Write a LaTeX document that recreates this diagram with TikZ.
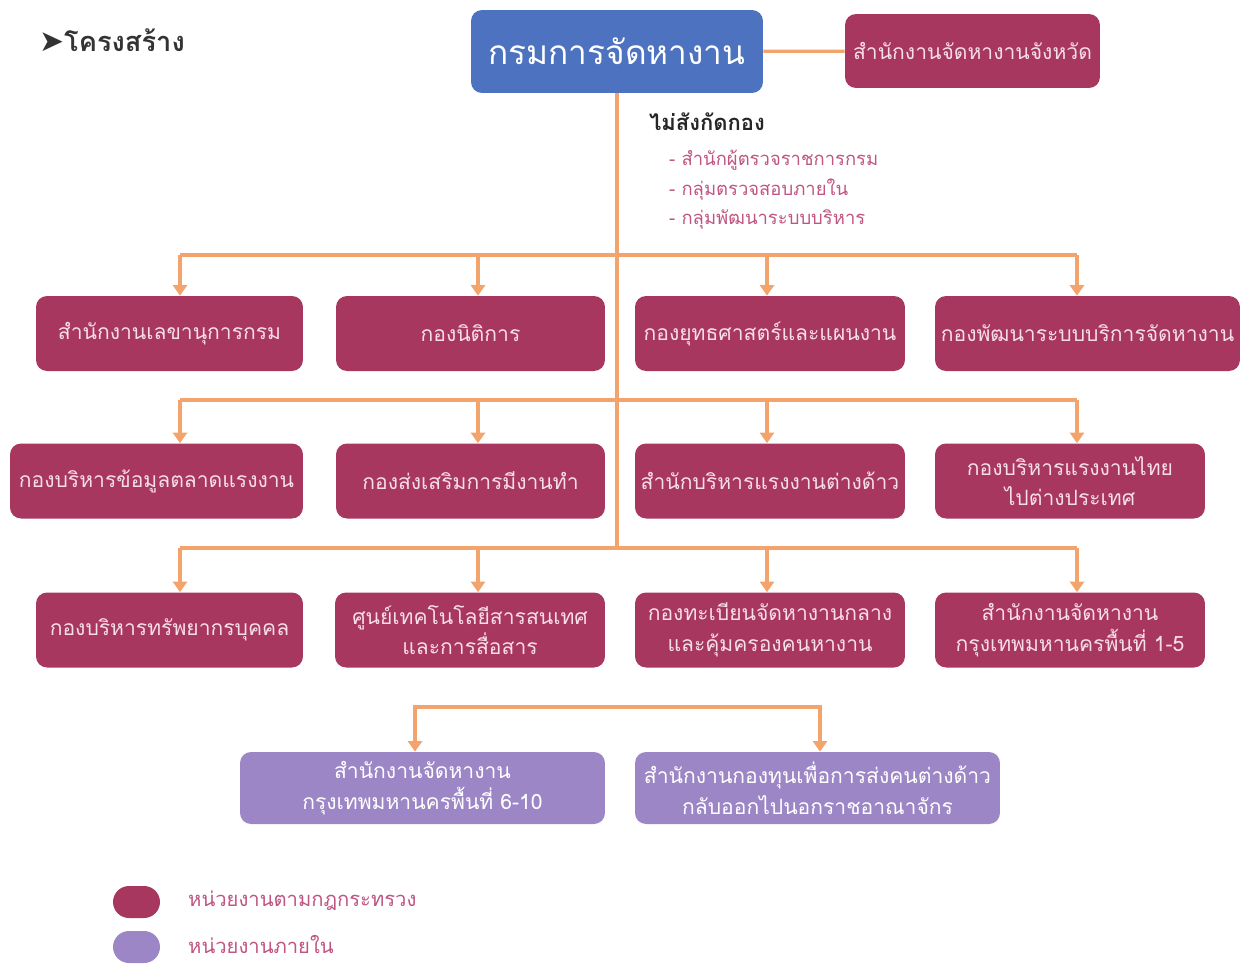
\documentclass[tikz,border=0pt]{standalone}
\usepackage{fontspec}
\setmainfont[Script=Thai]{Loma}
\newfontfamily\symfont{DejaVu Sans}
\usetikzlibrary{arrows.meta}
\definecolor{deptred}{HTML}{A8375F}
\definecolor{deptpurple}{HTML}{9C86C6}
\definecolor{deptblue}{HTML}{4D72C0}
\definecolor{linkorange}{HTML}{F3A36C}
\definecolor{boxtext}{HTML}{F7DEE6}
\definecolor{itemtext}{HTML}{BF5580}
\begin{document}
\begin{tikzpicture}[x=0.02cm, y=-0.02cm,
    box/.style={rectangle, rounded corners=0.22cm, fill=deptred, text=boxtext, align=center,
      font=\fontsize{12}{17.5}\selectfont, inner sep=0pt, minimum height=1.5cm, minimum width=#1},
    inbox/.style={box=#1, fill=deptpurple, text=white},
    pill/.style={rectangle, rounded corners=0.32cm, minimum width=0.94cm, minimum height=0.64cm, inner sep=0pt},
    link/.style={draw=linkorange, line width=1.8pt},
    >={Triangle[width=8pt,length=6pt]}]
       \useasboundingbox (0, 0) rectangle (1247, 964);

       \draw (33, 40) node[anchor=west, font=\fontsize{15.5}{18}\selectfont, text=black!80](title){{\symfont\fontsize{17}{18}\selectfont ➤}\textbf{โครงสร้าง}}
       (617, 51.5) node[box=5.84cm, minimum height=1.66cm, fill=deptblue, text=white, font=\fontsize{19}{24}\selectfont](top){กรมการจัดหางาน}
       (972.5, 51) node[box=5.1cm, minimum height=1.48cm](prov){สำนักงานจัดหางานจังหวัด}
       (643, 122) node[anchor=west, font=\fontsize{12.5}{15}\selectfont\bfseries, text=black!85](free){ไม่สังกัดกอง}
       (663, 160) node[anchor=west, font=\fontsize{10.5}{13}\selectfont, text=itemtext](free1){- สำนักผู้ตรวจราชการกรม}
       (663, 190) node[anchor=west, font=\fontsize{10.5}{13}\selectfont, text=itemtext](free2){- กลุ่มตรวจสอบภายใน}
       (663, 219) node[anchor=west, font=\fontsize{10.5}{13}\selectfont, text=itemtext](free3){- กลุ่มพัฒนาระบบบริหาร};

       \draw (169.5, 333.5) node[box=5.34cm](b11){สำนักงานเลขานุการกรม}
       (470.5, 333.5) node[box=5.38cm](b12){กองนิติการ}
       (770, 333.5) node[box=5.4cm](b13){กองยุทธศาสตร์และแผนงาน}
       (1087.5, 333.5) node[box=6.1cm](b14){กองพัฒนาระบบบริการจัดหางาน}
       (156.5, 481) node[box=5.86cm](b21){กองบริหารข้อมูลตลาดแรงงาน}
       (470.5, 481) node[box=5.38cm](b22){กองส่งเสริมการมีงานทำ}
       (770, 481) node[box=5.4cm](b23){สำนักบริหารแรงงานต่างด้าว}
       (1070, 481) node[box=5.4cm](b24){กองบริหารแรงงานไทย\\ไปต่างประเทศ}
       (169.5, 630) node[box=5.34cm](b31){กองบริหารทรัพยากรบุคคล}
       (470, 630) node[box=5.4cm](b32){ศูนย์เทคโนโลยีสารสนเทศ\\และการสื่อสาร}
       (770, 630) node[box=5.4cm](b33){กองทะเบียนจัดหางานกลาง\\และคุ้มครองคนหางาน}
       (1070, 630) node[box=5.4cm](b34){สำนักงานจัดหางาน\\กรุงเทพมหานครพื้นที่ 1-5}
       (422.5, 788) node[inbox=7.3cm, minimum height=1.44cm](b41){สำนักงานจัดหางาน\\กรุงเทพมหานครพื้นที่ 6-10}
       (817.5, 788) node[inbox=7.3cm, minimum height=1.44cm](b42){สำนักงานกองทุนเพื่อการส่งคนต่างด้าว\\กลับออกไปนอกราชอาณาจักร};

       \draw (136.5, 902) node[pill, fill=deptred](key1){}
       (136.5, 947) node[pill, fill=deptpurple](key2){}
       (182, 901) node[anchor=west, font=\fontsize{11.5}{14}\selectfont, text=itemtext](key1text){หน่วยงานตามกฎกระทรวง}
       (182, 944) node[anchor=west, font=\fontsize{11.5}{14}\selectfont, text=itemtext](key2text){หน่วยงานภายใน};

       \coordinate (c1) at (180, 0);
       \coordinate (c2) at (478, 0);
       \coordinate (c3) at (767, 0);
       \coordinate (c4) at (1077, 0);
       \coordinate (c5) at (415, 0);
       \coordinate (c6) at (820, 0);
       \coordinate (bus1) at (617, 255);
       \coordinate (bus2) at (617, 400);
       \coordinate (bus3) at (617, 548);
       \coordinate (bus4) at (617, 707);

       \draw[link] (top) -- (prov);
       \draw[link] (top) -- (bus3);
       \draw[link] (bus1 -| c1) -- (bus1 -| c4);
       \draw[link] (bus2 -| c1) -- (bus2 -| c4);
       \draw[link] (bus3 -| c1) -- (bus3 -| c4);

       \draw[link, ->] (bus1 -| c1) -- (b11.north -| c1);
       \draw[link, ->] (bus1 -| c2) -- (b12.north -| c2);
       \draw[link, ->] (bus1 -| c3) -- (b13.north -| c3);
       \draw[link, ->] (bus1 -| c4) -- (b14.north -| c4);
       \draw[link, ->] (bus2 -| c1) -- (b21.north -| c1);
       \draw[link, ->] (bus2 -| c2) -- (b22.north -| c2);
       \draw[link, ->] (bus2 -| c3) -- (b23.north -| c3);
       \draw[link, ->] (bus2 -| c4) -- (b24.north -| c4);
       \draw[link, ->] (bus3 -| c1) -- (b31.north -| c1);
       \draw[link, ->] (bus3 -| c2) -- (b32.north -| c2);
       \draw[link, ->] (bus3 -| c3) -- (b33.north -| c3);
       \draw[link, ->] (bus3 -| c4) -- (b34.north -| c4);
       \draw[link, <->] (b41.north -| c5) |- (bus4) -| (b42.north -| c6);
    \end{tikzpicture}
\end{document}
